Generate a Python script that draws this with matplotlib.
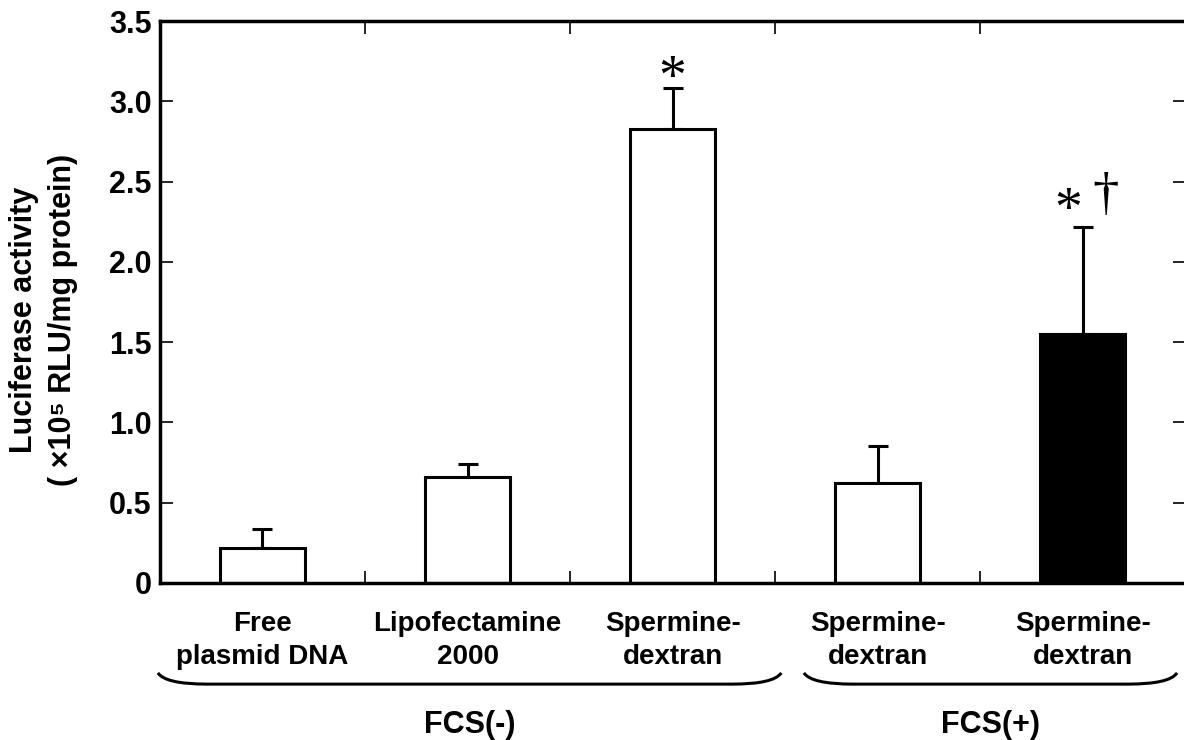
import numpy as np
import matplotlib
matplotlib.use('Agg')
import matplotlib.pyplot as plt
from matplotlib.path import Path
from matplotlib.patches import PathPatch

plt.rcParams['font.family'] = ['Liberation Sans', 'DejaVu Sans']
plt.rcParams['font.weight'] = 'bold'

# data
labels = ['Free\nplasmid DNA', 'Lipofectamine\n2000', 'Spermine-\ndextran',
          'Spermine-\ndextran', 'Spermine-\ndextran']
values = [0.22, 0.66, 2.83, 0.62, 1.55]
errors = [0.115, 0.08, 0.25, 0.235, 0.67]
colors = ['white', 'white', 'white', 'white', 'black']
yticks = [0, 0.5, 1.0, 1.5, 2.0, 2.5, 3.0, 3.5]
ytick_labels = ['0', '0.5', '1.0', '1.5', '2.0', '2.5', '3.0', '3.5']
groups = ['FCS(-)', 'FCS(+)']
group_spans = [(-0.51, 2.53), (2.64, 4.46)]

x = np.arange(len(values))

fig = plt.figure(figsize=(11.84, 7.40), dpi=100)
ax = fig.add_axes([0.1351, 0.2122, 0.8660, 0.7594])

ax.errorbar(x, values, yerr=[np.zeros(len(values)), errors], fmt='none',
            ecolor='black', elinewidth=2.2, capsize=7, capthick=2.2, zorder=1)
ax.bar(x, values, width=0.415, color=colors, edgecolor='black',
       linewidth=2.2, zorder=2)

ax.set_xlim(-0.5, 4.5)
ax.set_ylim(0, 3.5)

for s in ax.spines.values():
    s.set_linewidth(2.5)

ax.set_yticks(yticks)
ax.set_yticklabels(ytick_labels, fontsize=22, fontweight='bold')
ax.tick_params(axis='y', direction='in', length=9, width=1.2, pad=6,
               left=True, right=True)

ax.set_xticks(x)
ax.set_xticklabels(labels, fontsize=20, fontweight='bold', linespacing=1.35)
ax.tick_params(axis='x', which='major', length=0, pad=20)
ax.set_xticks([0.5, 1.5, 2.5, 3.5], minor=True)
ax.tick_params(axis='x', which='minor', direction='in', length=9, width=1.2,
               top=True, bottom=True)

# significance marks
ax.text(2, 3.13, '*', family='Liberation Serif', fontsize=40,
        fontweight='normal', ha='center', va='center')
ax.text(3.93, 2.31, '*', family='Liberation Serif', fontsize=40,
        fontweight='normal', ha='center', va='center')
ax.text(4.11, 2.41, '†', family='Liberation Serif', fontsize=38,
        fontweight='normal', ha='center', va='center')

# group braces under the labels
trans = ax.get_xaxis_transform()
y_end, y_line, dx = -0.160, -0.180, 0.24
for (x0, x1), name in zip(group_spans, groups):
    verts = [(x0, y_end), (x0 + dx * 0.15, y_line), (x0 + dx, y_line),
             (x1 - dx, y_line),
             (x1 - dx * 0.15, y_line), (x1, y_end)]
    codes = [Path.MOVETO, Path.CURVE3, Path.CURVE3, Path.LINETO,
             Path.CURVE3, Path.CURVE3]
    ax.add_patch(PathPatch(Path(verts, codes), transform=trans, fill=False,
                           lw=2.2, clip_on=False))
    ax.text((x0 + x1) / 2, -0.267, name, transform=trans, fontsize=22,
            fontweight='bold', ha='center', va='baseline')

fig.text(0.037, 0.5676, 'Luciferase activity\n( ×10⁵ RLU/mg protein)',
         rotation=90, ha='center', va='center', fontsize=22,
         fontweight='bold', linespacing=1.4, multialignment='center')

plt.savefig('out.png', dpi=100)
